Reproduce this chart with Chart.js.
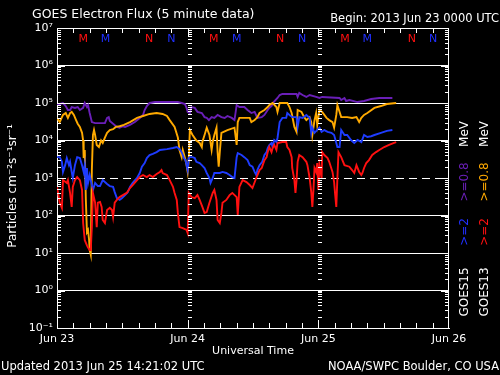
<!DOCTYPE html>
<html>
<head>
<meta charset="utf-8">
<script src="https://cdn.jsdelivr.net/npm/chart.js@4.4.1/dist/chart.umd.min.js"></script>
<style>
html, body { margin: 0; padding: 0; background: #000; }
#wrap { width: 500px; height: 375px; }
</style>
</head>
<body>
<div id="wrap"><canvas id="goes" width="500" height="375"></canvas></div>
<script>
// hours since 2013 Jun 23 00:00 UTC, flux in particles cm-2 s-1 sr-1
const goes13Above08 = [[0.0,4.0e4],[0.5,3.1e4],[1.1,4.8e4],[1.6,5.4e4],[2.0,4.0e4],[2.4,5.4e4],[2.7,5.8e4],[3.1,4.8e4],[3.5,3.5e4],[3.8,2.8e4],
  [4.2,2.3e4],[4.6,1.6e4],[4.8,1.0e4],[4.9,3.4e3],[5.1,5.6e3],[5.3,2.6e2],[5.5,36],[5.7,41],[5.9,22],[6.0,12],
  [6.2,9],[6.4,1.6e3],[6.6,1.4e4],[6.8,1.9e4],[7.0,1.4e4],[7.3,7.6e3],[7.7,6.7e3],[8.1,1.0e4],[8.4,8.6e3],[8.8,1.2e4],
  [9.2,1.6e4],[9.7,1.9e4],[10.3,2.0e4],[10.8,2.3e4],[11.5,2.4e4],[12.3,2.6e4],[13.4,3.1e4],[14.7,4.0e4],[15.8,4.5e4],[17.0,5.1e4],
  [18.3,5.4e4],[19.4,5.1e4],[20.2,4.5e4],[20.7,3.5e4],[21.6,2.3e4],[22.2,1.2e4],[22.5,5.6e3],[22.9,3.6e3],[23.1,5.6e3],[23.5,3.4e3],
  [23.8,2.2e3],[24.0,1.45e3],[24.2,3.0e3],[24.4,1.9e4],[24.9,1.4e4],[25.6,1.0e4],[26.2,8.6e3],[26.6,6.7e3],[26.7,9.1e3],[27.1,1.4e4],
  [27.5,2.2e4],[28.0,1.4e4],[28.4,5.6e3],[28.6,9.1e3],[28.9,1.4e4],[29.3,2.2e4],[29.5,4.9e3],[29.7,2.0e3],[29.9,4.9e3],[30.2,1.6e4],
  [31.3,1.9e4],[32.6,2.2e4],[33.0,7.6e3],[33.2,3.1e4],[33.5,4.0e4],[35.4,4.0e4],[35.7,3.1e4],[36.3,3.5e4],[36.8,4.2e4],[37.2,5.4e4],
  [38.1,6.5e4],[38.7,7.8e4],[39.0,8.8e4],[39.6,1.0e5],[40.3,7.8e4],[40.5,5.8e4],[40.9,1.0e5],[42.3,1.0e5],[42.7,7.8e4],[43.1,5.4e4],
  [43.6,2.3e4],[44.0,1.7e4],[44.2,6.5e4],[44.9,5.8e4],[45.4,4.2e4],[45.8,3.5e4],[46.4,4.2e4],[46.7,3.1e4],[46.9,1.4e4],[47.3,3.5e4],
  [47.6,5.4e4],[47.8,2.6e4],[48.2,6.5e4],[48.7,5.8e4],[49.5,4.0e4],[50.0,3.5e4],[50.6,3.1e4],[50.9,2.2e4],[51.3,4.8e4],[51.5,8.8e4],
  [52.2,4.2e4],[53.3,4.2e4],[54.2,4.0e4],[55.0,4.2e4],[55.5,3.1e4],[55.9,4.0e4],[56.4,4.8e4],[57.0,5.4e4],[58.3,7.4e4],[59.5,8.3e4],
  [60.6,9.4e4],[62.3,1.0e5]];

const goes15Above08 = [[0.0,9.4e4],[0.5,9.4e4],[1.1,1.0e5],[1.6,8.3e4],[2.0,6.5e4],[2.4,6.5e4],[2.7,7.8e4],[3.3,7.4e4],[3.8,7.8e4],[4.2,6.5e4],
  [4.8,7.4e4],[5.1,1.0e5],[5.5,7.8e4],[5.7,8.8e4],[6.0,5.4e4],[6.4,3.1e4],[7.0,2.9e4],[7.9,2.9e4],[8.8,2.9e4],[9.2,4.0e4],
  [9.5,4.2e4],[9.7,3.3e4],[10.3,2.8e4],[11.0,2.3e4],[11.5,2.2e4],[12.1,2.4e4],[12.5,2.3e4],[13.4,2.6e4],[14.3,3.1e4],[15.2,4.0e4],
  [15.8,4.8e4],[16.1,6.5e4],[16.5,8.3e4],[17.0,1.0e5],[18.0,1.06e5],[22.2,1.06e5],[22.9,1.0e5],[23.5,9.4e4],[23.8,7.4e4],[24.0,5.8e4],
  [24.4,5.4e4],[24.7,7.8e4],[25.3,7.4e4],[25.8,5.8e4],[26.6,5.4e4],[27.1,4.2e4],[27.5,4.0e4],[27.9,3.5e4],[28.4,4.2e4],[28.9,4.0e4],
  [29.5,4.8e4],[30.2,4.2e4],[30.8,4.0e4],[31.3,4.5e4],[32.1,4.0e4],[32.6,3.5e4],[33.0,8.8e4],[33.5,7.8e4],[34.4,7.8e4],[35.0,6.5e4],
  [35.7,5.4e4],[36.3,5.8e4],[36.8,4.0e4],[37.6,4.2e4],[38.1,4.8e4],[38.7,6.5e4],[39.0,7.4e4],[39.4,8.3e4],[39.8,1.06e5],[40.5,1.36e5],
  [40.9,1.63e5],[41.4,1.74e5],[44.0,1.74e5],[44.2,1.45e5],[44.5,1.85e5],[45.1,1.63e5],[45.8,1.45e5],[46.4,1.63e5],[47.6,1.45e5],[48.2,1.36e5],
  [48.7,1.45e5],[51.9,1.36e5],[52.2,1.2e5],[52.8,1.36e5],[53.1,1.13e5],[53.7,1.2e5],[55.2,1.06e5],[56.4,1.13e5],[57.7,1.28e5],[59.2,1.36e5],
  [61.6,1.36e5]];

const goes15Above2 = [[0.0,3.6e3],[0.5,3.6e3],[0.9,2.7e3],[1.1,1.45e3],[1.5,2.2e3],[1.8,3.4e3],[2.2,2.2e3],[2.4,2.7e3],[2.7,1.45e3],[2.9,1.0e3],
  [3.3,2.2e3],[3.7,3.6e3],[4.2,3.4e3],[4.6,2.2e3],[4.9,1.45e3],[5.1,2.2e3],[5.3,4.8e2],[5.5,1.85e3],[5.7,7.4e2],[6.0,1.2e3],
  [6.4,6.5e2],[6.6,4.8e2],[7.0,7.4e2],[7.5,6.1e2],[7.9,6.1e2],[8.4,8.8e2],[9.2,6.9e2],[9.7,6.1e2],[10.3,5.8e2],[10.6,4.2e2],
  [11.0,2.9e2],[11.5,2.6e2],[11.9,2.9e2],[12.5,3.5e2],[13.0,4.2e2],[13.4,5.8e2],[13.9,7.4e2],[14.7,1.0e3],[15.2,1.36e3],[15.6,2.0e3],
  [16.1,2.5e3],[16.5,3.4e3],[17.0,4.1e3],[17.6,4.4e3],[18.3,4.9e3],[18.9,5.6e3],[20.2,5.9e3],[21.3,6.3e3],[22.0,6.7e3],[22.5,5.9e3],
  [22.9,4.9e3],[23.3,3.4e3],[23.6,3.0e3],[24.0,1.63e3],[24.2,3.4e3],[24.4,3.6e3],[24.9,3.6e3],[25.3,3.4e3],[25.6,2.7e3],[26.2,2.5e3],
  [26.6,2.2e3],[27.1,1.85e3],[27.5,1.36e3],[28.0,1.0e3],[28.2,7.4e2],[28.6,1.0e3],[28.9,1.36e3],[29.9,1.36e3],[30.4,1.45e3],[31.1,1.36e3],
  [31.7,1.2e3],[32.2,1.06e3],[32.6,1.0e3],[33.0,3.6e3],[33.2,4.6e3],[33.9,4.1e3],[34.4,3.6e3],[35.0,3.0e3],[35.4,2.2e3],[35.9,2.0e3],
  [36.3,1.45e3],[36.6,1.2e3],[36.8,1.63e3],[37.2,2.2e3],[37.7,2.7e3],[38.1,4.1e3],[38.5,4.9e3],[38.7,6.3e3],[39.0,7.6e3],[39.4,8.6e3],
  [39.6,6.7e3],[39.9,1.03e4],[40.3,9.1e3],[40.5,1.17e4],[40.9,3.1e4],[41.4,4.0e4],[42.1,4.0e4],[42.3,5.4e4],[42.7,4.8e4],[43.2,4.2e4],
  [44.0,4.2e4],[44.2,2.3e4],[44.5,4.2e4],[45.1,4.0e4],[45.8,4.8e4],[46.4,4.0e4],[46.7,1.6e4],[46.9,2.2e4],[47.3,1.6e4],[48.2,2.2e4],
  [48.6,1.7e4],[49.1,1.9e4],[49.7,1.7e4],[50.4,1.6e4],[50.9,1.4e4],[51.3,8.6e3],[51.5,6.7e3],[51.9,6.7e3],[52.2,1.9e4],[52.8,1.4e4],
  [53.3,1.4e4],[54.0,1.03e4],[54.6,8.6e3],[55.2,1.03e4],[55.9,9.1e3],[56.4,1.4e4],[57.0,1.24e4],[57.7,1.3e4],[58.3,1.4e4],[59.5,1.6e4],
  [60.6,1.8e4],[61.6,1.9e4]];

const goes13Above2 = [[0.0,5.8e2],[0.2,4.0e2],[0.5,2.2e2],[0.9,1.6e2],[1.1,8.8e2],[1.8,7.4e2],[2.0,8.8e2],[2.4,4.0e2],[2.7,1.7e2],[2.9,5.8e2],
  [3.3,8.8e2],[3.7,1.06e3],[4.2,8.8e2],[4.6,4.8e2],[4.8,63],[5.1,22],[5.5,16],[5.7,14],[6.0,12],[6.2,12],
  [6.4,49],[6.6,4.0e2],[7.0,2.2e2],[7.3,49],[7.5,2.2e2],[7.9,2.3e2],[8.2,1.7e2],[8.4,76],[8.8,63],[9.2,1.4e2],
  [9.7,1.6e2],[10.1,1.4e2],[10.3,91],[10.6,2.2e2],[11.0,2.6e2],[11.5,3.1e2],[12.1,3.5e2],[12.8,4.0e2],[13.4,5.4e2],[13.9,6.5e2],
  [14.7,8.8e2],[15.2,1.06e3],[15.8,1.2e3],[16.5,1.06e3],[17.0,1.2e3],[17.6,1.06e3],[18.3,1.28e3],[18.9,1.45e3],[19.2,1.63e3],[19.4,1.36e3],
  [20.2,1.2e3],[20.7,8.8e2],[21.3,5.8e2],[21.6,4.0e2],[22.0,2.6e2],[22.2,1.17e2],[22.5,49],[23.1,46],[23.8,41],[24.0,34],
  [24.2,4.0e2],[24.7,3.1e2],[25.3,2.9e2],[25.8,3.5e2],[26.2,2.6e2],[26.7,1.7e2],[27.1,1.17e2],[27.5,1.24e2],[28.0,2.2e2],[28.6,4.0e2],
  [28.9,4.8e2],[29.3,2.6e2],[29.5,76],[29.9,63],[30.2,1.17e2],[30.4,2.2e2],[31.1,2.6e2],[31.7,3.5e2],[32.2,4.0e2],[33.0,3.1e2],
  [33.2,1.03e2],[33.5,5.8e2],[34.1,8.8e2],[34.8,7.8e2],[35.4,6.5e2],[35.9,5.4e2],[36.6,1.0e3],[37.2,1.63e3],[37.6,1.85e3],[38.1,3.0e3],
  [38.5,3.6e3],[38.7,4.9e3],[39.0,6.7e3],[39.4,4.9e3],[39.6,6.3e3],[39.9,7.6e3],[40.3,5.6e3],[40.5,8.6e3],[41.4,9.1e3],[42.1,9.1e3],
  [42.3,6.7e3],[42.7,5.6e3],[43.1,3.6e3],[43.2,1.85e3],[43.6,8.8e2],[43.8,4.0e2],[44.0,8.8e2],[44.2,2.7e3],[44.5,4.1e3],[45.1,3.6e3],
  [45.8,2.7e3],[46.0,2.2e3],[46.4,1.0e3],[46.7,4.2e2],[46.9,1.7e2],[47.1,4.8e2],[47.3,1.85e3],[47.6,1.45e3],[47.8,2.5e3],[48.0,4.8e2],
  [48.2,2.2e3],[48.6,1.0e3],[48.7,4.9e3],[49.1,4.1e3],[49.7,3.4e3],[50.0,2.7e3],[50.6,1.45e3],[50.9,7.8e2],[51.1,3.5e2],[51.3,1.7e2],
  [51.5,1.0e3],[51.7,4.9e3],[52.2,3.6e3],[52.8,2.2e3],[53.7,2.0e3],[54.2,1.63e3],[54.6,1.36e3],[55.0,2.2e3],[55.5,1.45e3],[55.9,1.2e3],
  [56.1,1.36e3],[56.4,1.85e3],[56.8,2.5e3],[57.3,3.0e3],[57.9,4.1e3],[58.6,4.9e3],[59.2,5.6e3],[60.1,6.7e3],[61.0,7.6e3],[61.9,8.6e3],
  [62.3,9.1e3]];

// local midnight / noon marks for each satellite (hours)
const midnight13 = [4.8, 28.8, 52.9];
const midnight15 = [8.9, 33.0, 57.0];
const noon13 = [16.9, 41.0, 65.2];
const noon15 = [21.0, 45.0, 69.1];

const dayTicks = [0, 24, 48, 72];
const dayLabels = ['Jun 23', 'Jun 24', 'Jun 25', 'Jun 26'];
const decades = [-1, 0, 1, 2, 3, 4, 5, 6, 7];
const alertLevel = 1e3;

const FONT = '"DejaVu Sans", sans-serif';
const SUP = {'-': '\u207B', '0': '\u2070', '1': '\u00B9', '2': '\u00B2', '3': '\u00B3',
  '4': '\u2074', '5': '\u2075', '6': '\u2076', '7': '\u2077', '8': '\u2078', '9': '\u2079'};
const sup = n => String(n).split('').map(ch => SUP[ch]).join('');

const toPoints = arr => arr.map(p => ({x: p[0], y: p[1]}));

function series(data, color, order) {
	return {
		data: toPoints(data),
		borderColor: color,
		backgroundColor: color,
		borderWidth: 1.9,
		pointRadius: 0,
		tension: 0,
		fill: false,
		order: order
	};
}

const goesDecor = {
	id: 'goesDecor',
	beforeDraw(chart) {
		const c = chart.ctx;
		c.save();
		c.fillStyle = '#000';
		c.fillRect(0, 0, chart.width, chart.height);
		c.restore();
	},
	afterDraw(chart) {
		const c = chart.ctx;
		const a = chart.chartArea;
		const xs = chart.scales.x;
		const ys = chart.scales.y;
		const seg = (x1, y1, x2, y2) => {
			c.beginPath();
			c.moveTo(x1, y1);
			c.lineTo(x2, y2);
			c.stroke();
		};

		c.save();
		c.strokeStyle = '#fff';
		c.lineWidth = 1;

		// frame top and right
		seg(a.left, a.top + 0.5, a.right, a.top + 0.5);
		seg(a.right - 0.5, a.top, a.right - 0.5, a.bottom);

		// minor log ticks on both sides and at day boundaries
		for (let e = -1; e < 7; e++) {
			for (let k = 1; k <= 9; k++) {
				const y = Math.round(ys.getPixelForValue(k * Math.pow(10, e))) + 0.5;
				const len = k === 1 ? 8 : 4;
				seg(a.left, y, a.left + len, y);
				seg(a.right - len, y, a.right, y);
				[24, 48].forEach(d => {
					const x = Math.round(xs.getPixelForValue(d));
					seg(x, y, x + 4, y);
				});
			}
		}

		// 3-hour ticks top and bottom
		for (let h = 3; h < 72; h += 3) {
			const x = Math.round(xs.getPixelForValue(h)) + 0.5;
			const len = h % 24 === 0 ? 8 : 5;
			seg(x, a.top, x, a.top + len);
			seg(x, a.bottom, x, a.bottom - len);
		}

		// satellite midnight / noon markers
		c.font = '11px ' + FONT;
		c.textAlign = 'center';
		c.textBaseline = 'middle';
		const mark = (list, txt, col) => list.forEach(h => {
			c.fillStyle = col;
			c.fillText(txt, xs.getPixelForValue(h), 39);
		});
		mark(midnight13, 'M', '#ff1010');
		mark(midnight15, 'M', '#2030ff');
		mark(noon13, 'N', '#ff1010');
		mark(noon15, 'N', '#2030ff');

		// titles
		c.fillStyle = '#fff';
		c.font = '12.5px ' + FONT;
		c.textAlign = 'left';
		c.textBaseline = 'alphabetic';
		c.fillText('GOES Electron Flux (5 minute data)', 32, 18);
		c.textAlign = 'right';
		c.font = '11.5px ' + FONT;
		c.fillText('Begin: 2013 Jun 23 0000 UTC', 499, 22);

		c.textAlign = 'center';
		c.font = '11px ' + FONT;
		c.fillText('Universal Time', (a.left + a.right) / 2, 354);

		c.font = '11.5px ' + FONT;
		c.textAlign = 'left';
		c.fillText('Updated 2013 Jun 25 14:21:02 UTC', 1, 370);
		c.textAlign = 'right';
		c.fillText('NOAA/SWPC Boulder, CO USA', 499, 370);

		// rotated y title
		const vtext = (txt, x, y, col, size) => {
			c.save();
			c.translate(x, y);
			c.rotate(-Math.PI / 2);
			c.fillStyle = col;
			c.font = size + 'px ' + FONT;
			c.textAlign = 'center';
			c.textBaseline = 'middle';
			c.fillText(txt, 0, 0);
			c.restore();
		};
		vtext('Particles cm' + sup(-2) + 's' + sup(-1) + 'sr' + sup(-1), 13, 186, '#fff', 12);

		// right side legend
		vtext('GOES15', 465, 292, '#fff', 12);
		vtext('>=2', 465, 232, '#2030ff', 12);
		vtext('>=0.8', 465, 182, '#6a1fb8', 12);
		vtext('MeV', 465, 134, '#fff', 12);
		vtext('GOES13', 485, 292, '#fff', 12);
		vtext('>=2', 485, 232, '#ff1010', 12);
		vtext('>=0.8', 485, 182, '#ffaa00', 12);
		vtext('MeV', 485, 134, '#fff', 12);

		c.restore();
	}
};

new Chart(document.getElementById('goes'), {
	type: 'line',
	data: {
		datasets: [
			series(goes15Above08, '#6a1fb8', 4),
			series(goes13Above08, '#ffaa00', 3),
			series(goes15Above2, '#1e3cff', 2),
			series(goes13Above2, '#ff1010', 1)
		]
	},
	options: {
		responsive: false,
		animation: false,
		events: [],
		layout: {padding: {top: 28, right: 51, left: 0, bottom: 0}},
		plugins: {
			legend: {display: false},
			tooltip: {enabled: false},
			title: {display: false}
		},
		scales: {
			x: {
				type: 'linear',
				min: 0,
				max: 72,
				afterBuildTicks: s => { s.ticks = dayTicks.map(v => ({value: v})); },
				afterFit: s => { s.height = 47; },
				grid: {display: false, drawTicks: false},
				border: {display: true, color: '#fff', width: 1},
				ticks: {
					color: '#fff',
					font: {family: FONT, size: 11},
					padding: 5,
					maxRotation: 0,
					autoSkip: false,
					callback: v => dayLabels[dayTicks.indexOf(v)]
				}
			},
			y: {
				type: 'logarithmic',
				min: 0.1,
				max: 1e7,
				afterBuildTicks: s => { s.ticks = decades.map(e => ({value: Math.pow(10, e)})); },
				afterFit: s => { s.width = 57; },
				grid: {
					color: '#fff',
					lineWidth: 1,
					drawTicks: false
				},
				border: {
					display: true,
					color: '#fff',
					width: 1,
					dash: ctx => (ctx.tick && Math.abs(ctx.tick.value - alertLevel) < 1 ? [8, 5] : [])
				},
				ticks: {
					color: '#fff',
					font: {family: FONT, size: 11},
					padding: 4,
					autoSkip: false,
					callback: v => '10' + sup(Math.round(Math.log10(v)))
				}
			}
		}
	},
	plugins: [goesDecor]
});
</script>
</body>
</html>
